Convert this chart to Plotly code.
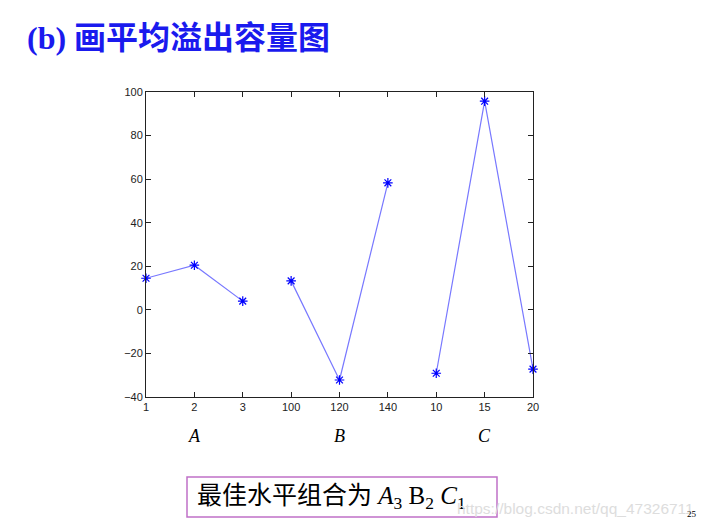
# Average overflow capacity chart (b) - factor levels vs mean
import plotly.graph_objects as go

# Factor levels (tick labels) and mean values
factors = ["A", "B", "C"]
levels_a = ["1", "2", "3"]
levels_b = ["100", "120", "140"]
levels_c = ["10", "15", "20"]
values_a = [14.5, 20.5, 4.0]
values_b = [13.3, -32.2, 58.3]
values_c = [-29.1, 95.8, -27.2]
y_ticks = [-40, -20, 0, 20, 40, 60, 80, 100]

tick_labels = levels_a + levels_b + levels_c
groups = [(levels_a, values_a), (levels_b, values_b), (levels_c, values_c)]

fig = go.Figure()

pos = 0
for levels, vals in groups:
    xs = list(range(pos, pos + len(levels)))
    fig.add_trace(go.Scatter(
        x=xs, y=vals,
        mode="lines+markers",
        line=dict(color="#7878ff", width=1.2),
        marker=dict(symbol="asterisk-open", size=8, color="blue",
                    line=dict(color="blue", width=1.2)),
        showlegend=False,
        hoverinfo="skip",
        cliponaxis=False,
    ))
    pos += len(levels)

# factor names under each group
for i, name in enumerate(factors):
    fig.add_annotation(
        x=3 * i + 1, y=0, xref="x", yref="paper", yanchor="middle", yshift=-39,
        text="<i>" + name + "</i>", showarrow=False,
        font=dict(family="Liberation Serif", size=18, color="black"),
    )

axis_style = dict(
    showgrid=False, zeroline=False, showline=True, linecolor="#222222",
    linewidth=1, mirror="ticks", ticks="inside", ticklen=5,
    tickcolor="#222222", tickfont=dict(family="Liberation Sans", size=11, color="#222222"),
)

# page body has an 8px margin, so the figure is offset by 8px
fig.update_layout(
    width=692, height=513,
    margin=dict(l=138, r=167, t=84, b=124),
    plot_bgcolor="white", paper_bgcolor="white",
    xaxis=dict(range=[0, 8], tickmode="array",
               tickvals=list(range(len(tick_labels))), ticktext=tick_labels,
               **axis_style),
    yaxis=dict(range=[-40, 100], tickmode="array", tickvals=y_ticks, **axis_style),
)

# slide title
fig.add_annotation(
    x=-121 / 387, y=1 + 54 / 305, xref="paper", yref="paper",
    xanchor="left", yanchor="middle",
    text="<b>(b) 画平均溢出容量图</b>", showarrow=False,
    font=dict(family="Liberation Serif, Noto Sans CJK SC", size=32, color="#1a1aee"),
)

# conclusion box
fig.add_shape(
    type="rect", xref="paper", yref="paper",
    x0=(187 - 146) / 387, x1=(497 - 146) / 387,
    y0=-(517 - 397) / 305, y1=-(477 - 397) / 305,
    line=dict(color="#c070c8", width=1.5), fillcolor="rgba(0,0,0,0)",
)
fig.add_annotation(
    x=(195 - 146) / 387, y=-(497 - 397) / 305, xref="paper", yref="paper",
    xanchor="left", yanchor="middle", showarrow=False,
    text="最佳水平组合为 <i>A</i><sub>3</sub> B<sub>2</sub> <i>C</i><sub>1</sub>",
    font=dict(family="Liberation Serif, Noto Sans CJK SC", size=25, color="black"),
)

# watermark and page number
fig.add_annotation(
    x=(455 - 146) / 387, y=-(508 - 397) / 305, xref="paper", yref="paper",
    xanchor="left", yanchor="middle", showarrow=False,
    text="https://blog.csdn.net/qq_47326711",
    font=dict(family="Liberation Sans", size=15.5, color="#dddddd"),
)
fig.add_annotation(
    x=(699 - 146) / 387, y=-124 / 305, xref="paper", yref="paper",
    xanchor="right", yanchor="bottom", showarrow=False,
    text="25", font=dict(family="Liberation Serif", size=9, color="black"),
)

fig.write_html("out.html")
